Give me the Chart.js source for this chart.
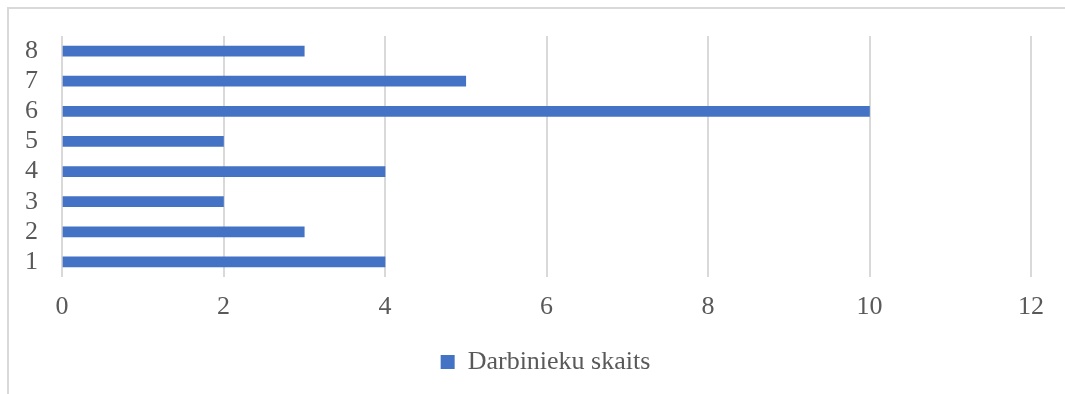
<!DOCTYPE html>
<html>
<head>
<meta charset="utf-8">
<script src="https://cdn.jsdelivr.net/npm/chart.js@4"></script>
<style>
    html, body { margin: 0; padding: 0; background: #fff; overflow: hidden; }
    #frame {
        position: absolute;
        left: 7px;
        top: 7px;
        width: 1073px;
        height: 385px;
        border-left: 2px solid #d9d9d9;
        border-top: 2px solid #d9d9d9;
    }
    #chart { display: block; }
</style>
</head>
<body>
<div id="frame"><canvas id="chart" width="1073" height="385"></canvas></div>
<script>
// Darbinieku skaits pa grupām
const categories = ['1', '2', '3', '4', '5', '6', '7', '8'];
const employeeCounts = [4, 3, 2, 4, 2, 10, 5, 3];
const xTicks = [0, 2, 4, 6, 8, 10, 12];

const seriesLabel = 'Darbinieku skaits';
const barColor = '#4472c4';
const gridColor = '#d9d9d9';
const textColor = '#595959';
const serif = "'Liberation Serif', 'Times New Roman', serif";

// centre the legend on the whole canvas instead of the padded area
const legendCentre = {
    id: 'legendCentre',
    afterLayout(chart) {
        const legend = chart.legend;
        if (!legend) return;
        const shift = chart.width / 2 - (legend.left + legend.right) / 2;
        legend.left += shift;
        legend.right += shift;
    }
};

const ctx = document.getElementById('chart');

new Chart(ctx, {
    type: 'bar',
    data: {
        labels: categories,
        datasets: [{
            label: seriesLabel,
            data: employeeCounts,
            backgroundColor: barColor,
            borderWidth: 0,
            barThickness: 10
        }]
    },
    options: {
        indexAxis: 'y',
        responsive: false,
        animation: false,
        layout: {
            padding: { top: 27, right: 51, bottom: 9, left: 0 }
        },
        plugins: {
            legend: {
                display: true,
                position: 'bottom',
                labels: {
                    color: textColor,
                    boxWidth: 14,
                    boxHeight: 14,
                    padding: 10,
                    font: { family: serif, size: 26 }
                }
            },
            tooltip: { enabled: false }
        },
        scales: {
            x: {
                min: 0,
                max: 12,
                afterBuildTicks: function (axis) {
                    axis.ticks = xTicks.map(v => ({ value: v }));
                },
                afterFit: function (axis) {
                    axis.height = 62;
                    axis.paddingLeft = 0;
                    axis.paddingRight = 0;
                },
                grid: {
                    color: gridColor,
                    lineWidth: 2,
                    drawTicks: false
                },
                border: { display: false },
                ticks: {
                    color: textColor,
                    padding: 15,
                    font: { family: serif, size: 26 }
                }
            },
            y: {
                reverse: true,
                afterFit: function (axis) {
                    axis.width = 53;
                    axis.paddingTop = 0;
                    axis.paddingBottom = 0;
                },
                grid: { display: false },
                border: { display: false },
                ticks: {
                    color: textColor,
                    padding: 16,
                    autoSkip: false,
                    font: { family: serif, size: 26 }
                }
            }
        }
    },
    plugins: [legendCentre]
});
</script>
</body>
</html>
